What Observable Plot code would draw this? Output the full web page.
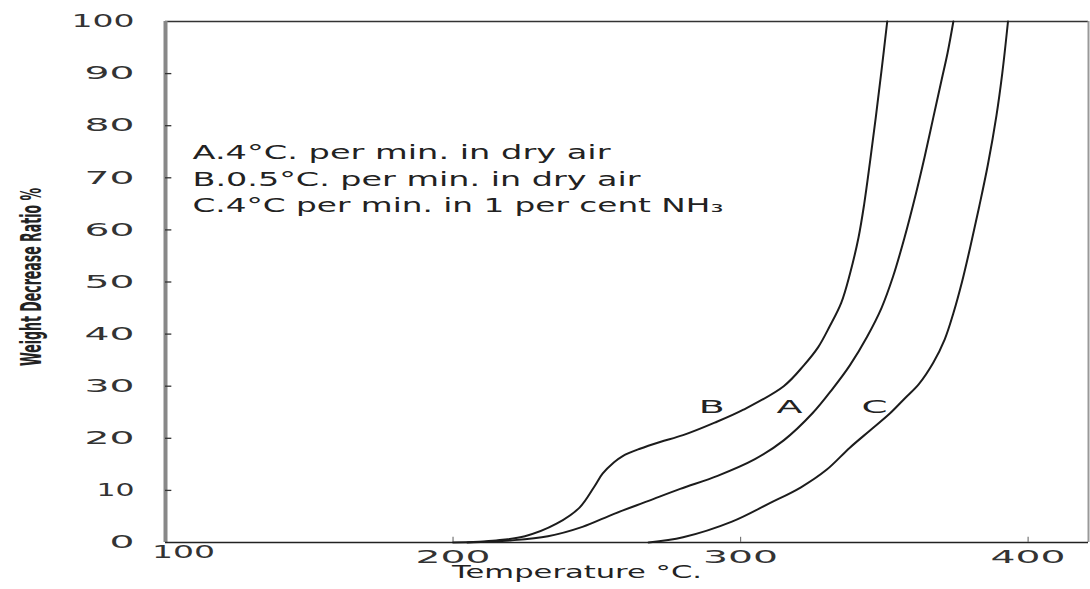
<!DOCTYPE html>
<html>
<head>
<meta charset="utf-8">
<script src="https://cdn.jsdelivr.net/npm/d3@7"></script>
<script src="https://cdn.jsdelivr.net/npm/@observablehq/plot@0.6"></script>
<style>
  html, body { margin: 0; padding: 0; background: #fff; }
  #chart svg { display: block; }
</style>
</head>
<body>
<div id="chart"></div>
<script>
// Thermogravimetric curves: weight decrease ratio (%) against temperature (°C)
const xDomain = [100, 421];
const yDomain = [0, 100];
const xTicks = [100, 200, 300, 400];
const yTicks = [0, 10, 20, 30, 40, 50, 60, 70, 80, 90, 100];

// A: 4°C per min in dry air
const tempA  = [205, 220, 233, 245, 256, 268, 279, 292, 305, 315, 325, 332, 338, 344, 349, 353, 357, 361, 364, 367, 370, 372, 374];
const ratioA = [0, 0.4, 1.2, 3, 5.5, 8, 10.3, 12.8, 16, 19.6, 24.8, 29.5, 34, 39.5, 45, 51, 58.5, 67, 74, 81.5, 89, 94, 100];

// B: 0.5°C per min in dry air
const tempB  = [200, 215, 225, 236, 244, 249, 252, 256, 259, 265, 272, 280, 291, 301, 315, 322, 327, 331, 335, 338, 341, 343, 345, 347, 349, 351];
const ratioB = [0, 0.4, 1.2, 3.6, 6.7, 10.6, 13.2, 15.4, 16.6, 18, 19.3, 20.6, 23, 25.5, 30, 34, 37.5, 41.5, 46, 51.5, 58.5, 65, 73, 81.5, 90.5, 100];

// C: 4°C per min in 1 per cent NH3
const tempC  = [268, 280, 297, 310, 321, 330, 338, 345, 352, 357, 362, 367, 371, 374, 377, 380, 383, 386, 389, 391, 393];
const ratioC = [0, 1, 4, 7.5, 10.6, 14, 18.2, 21.5, 24.8, 27.6, 30.4, 34.5, 39, 44, 50, 57, 64.5, 72.5, 82, 90, 100];

// curve letters placed beside each curve
const curveNames  = ["B", "A", "C"];
const curveLabelT = [290, 317, 346.6];
const curveLabelR = [25.9, 25.9, 25.9];

const legendLines = [
  "A.4°C. per min. in dry air",
  "B.0.5°C. per min. in dry air",
  "C.4°C per min. in 1 per cent NH₃"
];
const xTitle = "Temperature °C.";
const yTitle = "Weight Decrease Ratio %";

const rows = [
  ...tempA.map((t, i) => ({series: "A", t, r: ratioA[i]})),
  ...tempB.map((t, i) => ({series: "B", t, r: ratioB[i]})),
  ...tempC.map((t, i) => ({series: "C", t, r: ratioC[i]}))
];
const curveLabels = curveNames.map((name, i) => ({name, t: curveLabelT[i], r: curveLabelR[i]}));

const ink = "#222";
const wideFont = "DejaVu Sans, sans-serif";

const plot = Plot.plot({
  width: 1090,
  height: 589,
  marginLeft: 165,
  marginRight: 2,
  marginTop: 21,
  marginBottom: 47,
  style: {background: "#fff", fontFamily: wideFont, color: ink},
  x: {domain: xDomain, label: null},
  y: {domain: yDomain, label: null},
  marks: [
    // frame
    Plot.ruleY([yDomain[1]], {stroke: "#333", strokeWidth: 1.4}),
    Plot.ruleX([xDomain[1]], {stroke: "#999", strokeWidth: 2}),
    Plot.ruleX([xDomain[0]], {stroke: "#888", strokeWidth: 4}),
    Plot.ruleY([yDomain[0]], {stroke: "#222", strokeWidth: 1.6}),
    // inward tick marks
    Plot.ruleY(yTicks.slice(1, -1), {x1: xDomain[0], x2: xDomain[0] + 2.2, stroke: "#333", strokeWidth: 1.3}),
    Plot.ruleX(xTicks.slice(1), {y1: yDomain[0], y2: yDomain[0] + 1, stroke: "#777", strokeWidth: 1.2}),
    // tick labels
    Plot.axisY(yTicks, {tickSize: 0, tickPadding: 31, fontSize: 18, label: null, fill: "#333"}),
    Plot.axisX(xTicks.slice(1), {tickSize: 0, tickPadding: 8, fontSize: 18, label: null, fill: "#333"}),
    Plot.text(xTicks.slice(0, 1), {x: d => d, frameAnchor: "bottom", dx: 18, dy: 15, fontSize: 18, fill: "#333", text: d => String(d)}),
    // the three curves
    Plot.line(rows, {x: "t", y: "r", z: "series", curve: "catmull-rom", stroke: "#1c1c1c", strokeWidth: 2}),
    Plot.text(curveLabels, {x: "t", y: "r", text: "name", fontSize: 18, fill: ink}),
    // legend
    ...legendLines.map((line, i) =>
      Plot.text([line], {frameAnchor: "top-left", dx: 27, dy: 124 + i * 26.5, textAnchor: "start", fontSize: 19, fill: ink})
    ),
    // axis titles
    Plot.text([xTitle], {frameAnchor: "bottom", dx: -50, dy: 35, fontSize: 17, fill: ink}),
    Plot.text([yTitle], {frameAnchor: "left", dx: -133, dy: 84, rotate: -90, textAnchor: "start", fontSize: 28,
      fontWeight: "bold", fontFamily: "Liberation Sans Narrow, DejaVu Sans Condensed, sans-serif", fill: ink})
  ]
});

// The lettering is a wide stencil style; stretch each string to its set length.
const legendWidths = [418, 448, 531];
const stretch = new Map([
  [xTitle, 250],
  [yTitle, 178],
  ...legendLines.map((line, i) => [line, legendWidths[i]]),
  ...curveNames.map(n => [n, 26])
]);
const digitWidth = s => [...s].reduce((w, ch) => w + (ch === "1" ? 13 : 25), 0);
d3.select(plot).selectAll("text").each(function () {
  const s = this.textContent;
  let w = stretch.get(s);
  if (w === undefined && /^\d+$/.test(s)) w = digitWidth(s);
  if (w !== undefined) {
    this.setAttribute("textLength", w);
    this.setAttribute("lengthAdjust", "spacingAndGlyphs");
  }
});

document.getElementById("chart").appendChild(plot);
</script>
</body>
</html>
